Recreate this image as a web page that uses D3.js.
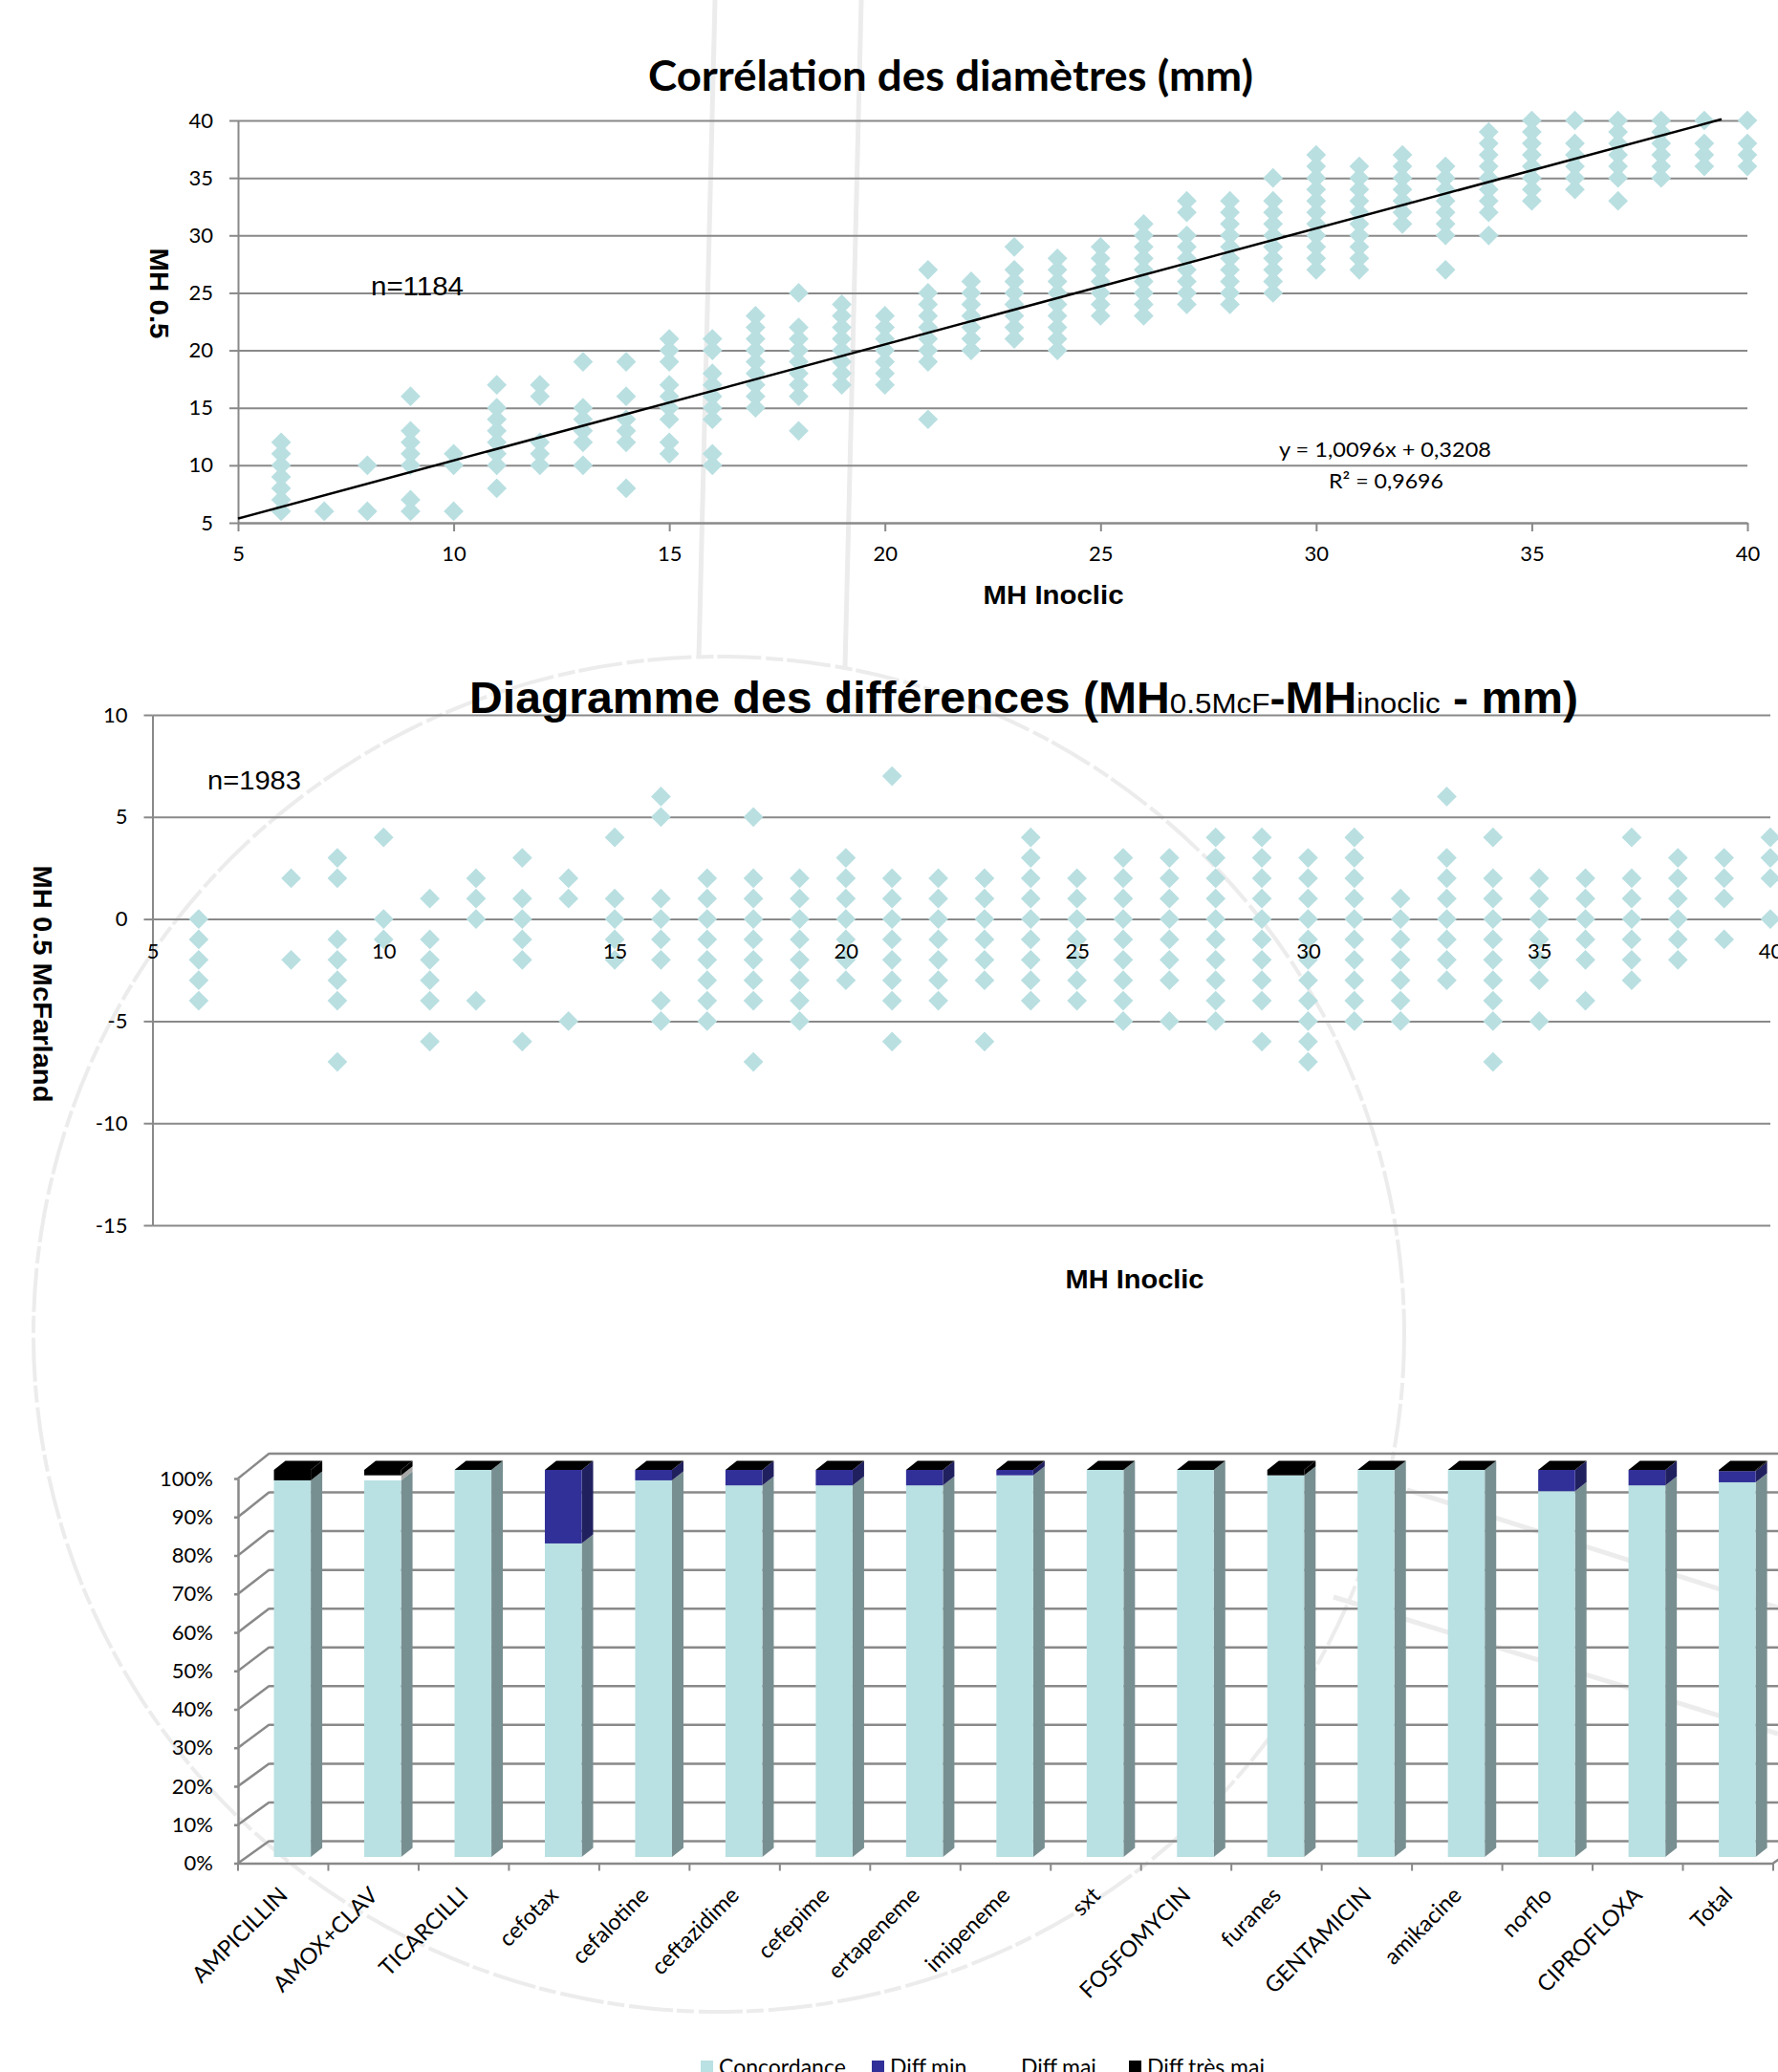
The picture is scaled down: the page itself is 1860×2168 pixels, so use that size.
<!DOCTYPE html>
<html>
<head>
<meta charset="utf-8">
<title>Corrélation des diamètres</title>
<script src="https://cdnjs.cloudflare.com/ajax/libs/d3/7.8.5/d3.min.js"></script>
<style>
  html, body { margin: 0; padding: 0; background: #fff; overflow: hidden; }
  svg { display: block; }
</style>
</head>
<body>
<svg id="chart" width="1860" height="2168"></svg>
<script>
// x value, then all the y values seen in that column
const correlationColumns = [
  [6, [6, 7, 8, 9, 10, 11, 12]],
  [7, [6]],
  [8, [6, 10]],
  [9, [6, 7, 10, 11, 12, 13, 16]],
  [10, [6, 10, 11]],
  [11, [8, 10, 11, 12, 13, 14, 15, 17]],
  [12, [10, 11, 12, 16, 17]],
  [13, [10, 12, 13, 14, 15, 19]],
  [14, [8, 12, 13, 14, 16, 19]],
  [15, [11, 12, 14, 15, 16, 17, 19, 20, 21]],
  [16, [10, 11, 14, 15, 16, 17, 18, 20, 21]],
  [17, [15, 16, 17, 18, 19, 20, 21, 22, 23]],
  [18, [13, 16, 17, 18, 19, 20, 21, 22, 25]],
  [19, [17, 18, 19, 20, 21, 22, 23, 24]],
  [20, [17, 18, 19, 20, 21, 22, 23]],
  [21, [14, 19, 20, 21, 22, 23, 24, 25, 27]],
  [22, [20, 21, 22, 23, 24, 25, 26]],
  [23, [21, 22, 23, 24, 25, 26, 27, 29]],
  [24, [20, 21, 22, 23, 24, 25, 26, 27, 28]],
  [25, [23, 24, 25, 26, 27, 28, 29]],
  [26, [23, 24, 25, 26, 27, 28, 29, 30, 31]],
  [27, [24, 25, 26, 27, 28, 29, 30, 32, 33]],
  [28, [24, 25, 26, 27, 28, 29, 30, 31, 32, 33]],
  [29, [25, 26, 27, 28, 29, 30, 31, 32, 33, 35]],
  [30, [27, 28, 29, 30, 31, 32, 33, 34, 35, 36, 37]],
  [31, [27, 28, 29, 30, 31, 32, 33, 34, 35, 36]],
  [32, [31, 32, 33, 34, 35, 36, 37]],
  [33, [27, 30, 31, 32, 33, 34, 35, 36]],
  [34, [30, 32, 33, 34, 35, 36, 37, 38, 39]],
  [35, [33, 34, 35, 36, 37, 38, 39, 40]],
  [36, [34, 35, 36, 37, 38, 40]],
  [37, [33, 35, 36, 37, 38, 39, 40]],
  [38, [35, 36, 37, 38, 39, 40]],
  [39, [36, 37, 38, 40]],
  [40, [36, 37, 38, 40]],
]
const trendSlope = 1.0096
const trendIntercept = 0.3208
const trendXRange = [5, 39.4]

const differenceColumns = [
  [6, [0, -1, -2, -3, -4]],
  [8, [2, -2]],
  [9, [3, 2, -1, -2, -3, -4, -7]],
  [10, [4, 0, -1]],
  [11, [1, -1, -2, -3, -4, -6]],
  [12, [2, 1, 0, -4]],
  [13, [3, 1, 0, -1, -2, -6]],
  [14, [2, 1, -5]],
  [15, [4, 1, 0, -1, -2]],
  [16, [6, 5, 1, 0, -1, -2, -4, -5]],
  [17, [2, 1, 0, -1, -2, -3, -4, -5]],
  [18, [5, 2, 1, 0, -1, -2, -3, -4, -7]],
  [19, [2, 1, 0, -1, -2, -3, -4, -5]],
  [20, [3, 2, 1, 0, -1, -2, -3]],
  [21, [7, 2, 1, 0, -1, -2, -3, -4, -6]],
  [22, [2, 1, 0, -1, -2, -3, -4]],
  [23, [2, 1, 0, -1, -2, -3, -6]],
  [24, [4, 3, 2, 1, 0, -1, -2, -3, -4]],
  [25, [2, 1, 0, -1, -2, -3, -4]],
  [26, [3, 2, 1, 0, -1, -2, -3, -4, -5]],
  [27, [3, 2, 1, 0, -1, -2, -3, -5]],
  [28, [4, 3, 2, 1, 0, -1, -2, -3, -4, -5]],
  [29, [4, 3, 2, 1, 0, -1, -2, -3, -4, -6]],
  [30, [3, 2, 1, 0, -1, -2, -3, -4, -5, -6, -7]],
  [31, [4, 3, 2, 1, 0, -1, -2, -3, -4, -5]],
  [32, [1, 0, -1, -2, -3, -4, -5]],
  [33, [6, 3, 2, 1, 0, -1, -2, -3]],
  [34, [4, 2, 1, 0, -1, -2, -3, -4, -5, -7]],
  [35, [2, 1, 0, -1, -2, -3, -5]],
  [36, [2, 1, 0, -1, -2, -4]],
  [37, [4, 2, 1, 0, -1, -2, -3]],
  [38, [3, 2, 1, 0, -1, -2]],
  [39, [3, 2, 1, -1]],
  [40, [4, 3, 2, 0]],
]

const drugs = ['AMPICILLIN', 'AMOX+CLAV', 'TICARCILLI', 'cefotax', 'cefalotine', 'ceftazidime', 'cefepime', 'ertapeneme', 'imipeneme', 'sxt', 'FOSFOMYCIN', 'furanes', 'GENTAMICIN', 'amikacine', 'norflo', 'CIPROFLOXA', 'Total']
const concordance = [97.3, 97.3, 100, 81, 97.3, 96, 96, 96, 98.6, 100, 100, 98.6, 100, 100, 94.5, 96, 96.8]
const diffMin = [0, 0, 0, 19, 2.7, 4, 4, 4, 1.4, 0, 0, 0, 0, 0, 5.5, 4, 2.9]
const diffMaj = [0, 1.3, 0, 0, 0, 0, 0, 0, 0, 0, 0, 0, 0, 0, 0, 0, 0]
const diffTresMaj = [2.7, 1.4, 0, 0, 0, 0, 0, 0, 0, 0, 0, 1.4, 0, 0, 0, 0, 0.3]
const seriesNames = ['Concordance', 'Diff.min.', 'Diff.maj.', 'Diff.très maj.']

const corrTicks = [5, 10, 15, 20, 25, 30, 35, 40]
const diffYTicks = [-15, -10, -5, 0, 5, 10]
const pctTicks = [0, 10, 20, 30, 40, 50, 60, 70, 80, 90, 100]

const CALIBRI = 'Lato, sans-serif'
const ARIAL = '"Liberation Sans", Arial, sans-serif'
const GREY = '#898989'
const DIAMOND = '#b9dfe1'
const frontColors = ['#b9e0e2', '#313098', '#ffffff', '#000000']
const sideColors = ['#788f91', '#21205f', '#a6a6a6', '#000000']

const svg = d3.select('#chart')

function text(parent, str, o) {
  const t = parent.append('text')
    .attr('x', o.x)
    .attr('y', o.y)
    .attr('text-anchor', o.anchor || 'middle')
    .attr('font-family', o.font || CALIBRI)
    .attr('font-size', o.size)
    .attr('font-weight', o.weight || 400)
    .attr('fill', '#000')
    .text(str)
  if (o.len) t.attr('textLength', o.len).attr('lengthAdjust', 'spacingAndGlyphs')
  if (o.rotate) t.attr('transform', `rotate(${o.rotate} ${o.x} ${o.y})`)
  return t
}

function styleAxis(g, width = 2) {
  g.attr('font-family', CALIBRI).attr('font-size', 22)
  g.selectAll('line').attr('stroke', GREY).attr('stroke-width', width)
  g.selectAll('path').attr('stroke', GREY).attr('stroke-width', width)
  g.selectAll('text').attr('fill', '#000')
}

function flatten(columns) {
  return columns.flatMap(([x, ys]) => ys.map((y) => ({ x, y })))
}

function drawDiamonds(g, columns, x, y) {
  const diamond = d3.symbol().type(d3.symbolSquare).size(215)
  g.append('g')
    .selectAll('path')
    .data(flatten(columns))
    .join('path')
    .attr('d', diamond)
    .attr('fill', DIAMOND)
    .attr('transform', (d) => `translate(${x(d.x)},${y(d.y)}) rotate(45)`)
}

// faint scan marks behind the charts (the lens outline and its reflections)
function drawScanMarks() {
  const g = svg.append('g')
    .attr('fill', 'none')
    .attr('stroke', '#ececec')
    .attr('stroke-width', 4)
  g.append('ellipse')
    .attr('cx', 752)
    .attr('cy', 1396)
    .attr('rx', 717)
    .attr('ry', 709)
    .attr('stroke-dasharray', '46 5 18 4')
  const marks = [
    [[748, 0], [731, 688]],
    [[901, 0], [884, 698]],
    [[1472, 1559], [1860, 1682]],
    [[1395, 1671], [1860, 1814]],
  ]
  marks.forEach((m) => g.append('path').attr('d', d3.line()(m)).attr('stroke-width', 5))
}

function drawCorrelation() {
  const x = d3.scaleLinear().domain([5, 40]).range([249, 1828])
  const y = d3.scaleLinear().domain([5, 40]).range([547, 126])
  const g = svg.append('g')

  const grid = g.append('g')
    .attr('transform', 'translate(249,0)')
    .call(d3.axisLeft(y).tickValues(corrTicks).tickSize(-(x.range()[1] - x.range()[0])).tickFormat(''))
  grid.select('.domain').remove()
  styleAxis(grid)

  const yAxis = g.append('g')
    .attr('transform', 'translate(249,0)')
    .call(d3.axisLeft(y).tickValues(corrTicks).tickSizeInner(9).tickSizeOuter(0).tickPadding(17))
  styleAxis(yAxis)

  const xAxis = g.append('g')
    .attr('transform', 'translate(0,547)')
    .call(d3.axisBottom(x).tickValues(corrTicks).tickSizeInner(9).tickSizeOuter(0).tickPadding(15))
  styleAxis(xAxis)

  drawDiamonds(g, correlationColumns, x, y)

  g.append('path')
    .attr('d', d3.line().x((d) => x(d)).y((d) => y(trendSlope * d + trendIntercept))(trendXRange))
    .attr('stroke', '#000')
    .attr('stroke-width', 2.5)
    .attr('fill', 'none')

  text(g, 'Corrélation des diamètres (mm)', { x: 994.5, y: 95, size: 43, weight: 700, len: 633 })
  text(g, 'MH Inoclic', { x: 1102, y: 632, size: 28, weight: 700, font: ARIAL, len: 147 })
  text(g, 'MH 0.5', { x: 157, y: 307, size: 28, weight: 700, font: ARIAL, rotate: 90, len: 95 })
  text(g, 'n=1184', { x: 388, y: 309, size: 27, font: ARIAL, anchor: 'start', len: 97 })
  text(g, 'y = 1,0096x + 0,3208', { x: 1449, y: 478, size: 22, len: 222 })
  text(g, 'R² = 0,9696', { x: 1450, y: 511, size: 22, len: 120 })
}

function drawDifferences() {
  const x = d3.scaleLinear().domain([5, 40]).range([159.5, 1852])
  const y = d3.scaleLinear().domain([-15, 10]).range([1282, 748])
  const g = svg.append('g')

  const grid = g.append('g')
    .attr('transform', 'translate(159.5,0)')
    .call(d3.axisLeft(y).tickValues(diffYTicks).tickSize(-(x.range()[1] - x.range()[0])).tickFormat(''))
  grid.select('.domain').remove()
  styleAxis(grid)

  const yAxis = g.append('g')
    .attr('transform', 'translate(159.5,0)')
    .call(d3.axisLeft(y).tickValues(diffYTicks).tickSizeInner(9).tickSizeOuter(0).tickPadding(17).tickFormat((d) => String(d)))
  styleAxis(yAxis)

  drawDiamonds(g, differenceColumns, x, y)

  const xAxis = g.append('g')
    .attr('transform', `translate(0,${y(0)})`)
    .call(d3.axisBottom(x).tickValues(corrTicks).tickSize(0).tickPadding(26))
  xAxis.select('.domain').remove()
  styleAxis(xAxis)

  const title = text(g, '', { x: 491, y: 746, size: 46, weight: 700, font: ARIAL, anchor: 'start', len: 1160 })
  const parts = [
    ['Diagramme des différences (MH', 46, 700],
    ['0.5McF', 30, 400],
    ['-MH', 46, 700],
    ['inoclic', 30, 400],
    [' - mm)', 46, 700],
  ]
  parts.forEach(([s, size, weight]) => {
    title.append('tspan').attr('font-size', size).attr('font-weight', weight).text(s)
  })

  text(g, 'MH Inoclic', { x: 1187, y: 1348, size: 28, weight: 700, font: ARIAL, len: 145 })
  text(g, 'MH 0.5 McFarland', { x: 35, y: 1029.5, size: 28, weight: 700, font: ARIAL, rotate: 90, len: 248 })
  text(g, 'n=1983', { x: 217, y: 826, size: 27, font: ARIAL, anchor: 'start', len: 98 })
}

function drawBars() {
  const table = drugs.map((name, i) => ({
    name,
    [seriesNames[0]]: concordance[i],
    [seriesNames[1]]: diffMin[i],
    [seriesNames[2]]: diffMaj[i],
    [seriesNames[3]]: diffTresMaj[i],
  }))
  const stacked = d3.stack().keys(seriesNames)(table)

  // floor band along the front edge of the 3D box
  const x = d3.scaleBand().domain(drugs).range([249, 1855]).paddingInner(0.592).paddingOuter(0.296)
  // three planes of the fake 3D box, each a bit different like the perspective in the original
  const yFront = d3.scaleLinear().domain([0, 100]).range([1949.5, 1547])
  const yBack = d3.scaleLinear().domain([0, 100]).range([1926, 1520.5])
  const yBar = d3.scaleLinear().domain([0, 100]).range([1943, 1538])
  const backX = 282
  const bar = { dx: 12, dy: -9.5, inset: 9.6 } // bar depth and where it sits on the floor
  const g = svg.append('g')

  const back = g.append('g')
    .attr('transform', `translate(${backX},0)`)
    .call(d3.axisLeft(yBack).tickValues(pctTicks).tickSize(-1700).tickFormat(''))
  back.select('.domain').remove()
  styleAxis(back, 2.5)

  // slanted lines on the left wall
  g.append('g')
    .selectAll('line')
    .data(pctTicks)
    .join('line')
    .attr('x1', 249)
    .attr('y1', (d) => yFront(d))
    .attr('x2', backX)
    .attr('y2', (d) => yBack(d))
    .attr('stroke', GREY)
    .attr('stroke-width', 2.5)

  g.append('line')
    .attr('x1', 1855)
    .attr('y1', yFront(0))
    .attr('x2', 1855 + backX - 249)
    .attr('y2', yBack(0))
    .attr('stroke', GREY)
    .attr('stroke-width', 2.5)

  const yAxis = g.append('g')
    .attr('transform', 'translate(249,0)')
    .call(d3.axisLeft(yFront).tickValues(pctTicks).tickSizeInner(4).tickSizeOuter(0).tickPadding(22).tickFormat((d) => `${d}%`))
  styleAxis(yAxis, 2.5)

  const xAxis = g.append('g')
    .attr('transform', `translate(0,${yFront(0)})`)
    .call(d3.axisBottom(x).tickSize(0).tickFormat(''))
  styleAxis(xAxis, 2.5)

  g.append('g')
    .selectAll('line')
    .data(drugs.concat('end'))
    .join('line')
    .attr('x1', (d, i) => 249 + i * x.step())
    .attr('x2', (d, i) => 249 + i * x.step())
    .attr('y1', yFront(0))
    .attr('y2', yFront(0) + 8)
    .attr('stroke', GREY)
    .attr('stroke-width', 2)

  const left = (d) => x(d.data.name) + bar.inset
  const right = (d) => left(d) + x.bandwidth()
  const top = (d) => yBar(d[1])
  const base = (d) => yBar(d[0])

  stacked.forEach((layer, i) => {
    const layerG = g.append('g')
    layerG.selectAll('polygon')
      .data(layer.filter((d) => d[1] > d[0]))
      .join('polygon')
      .attr('points', (d) => [
        [right(d), base(d)],
        [right(d) + bar.dx, base(d) + bar.dy],
        [right(d) + bar.dx, top(d) + bar.dy],
        [right(d), top(d)],
      ].join(' '))
      .attr('fill', sideColors[i])
    layerG.selectAll('rect')
      .data(layer.filter((d) => d[1] > d[0]))
      .join('rect')
      .attr('x', left)
      .attr('width', x.bandwidth())
      .attr('y', top)
      .attr('height', (d) => base(d) - top(d))
      .attr('fill', frontColors[i])
  })

  // lid of every bar takes the colour of the top series, even at zero height
  g.append('g')
    .selectAll('polygon')
    .data(stacked[stacked.length - 1])
    .join('polygon')
    .attr('points', (d) => [
      [left(d), top(d)],
      [right(d), top(d)],
      [right(d) + bar.dx, top(d) + bar.dy],
      [left(d) + bar.dx, top(d) + bar.dy],
    ].join(' '))
    .attr('fill', '#000')

  g.append('g')
    .selectAll('text')
    .data(drugs)
    .join('text')
    .attr('transform', (d) => `translate(${x(d) + x.bandwidth() / 2 + 6},${yFront(0) + 35}) rotate(-45)`)
    .attr('text-anchor', 'end')
    .attr('font-family', CALIBRI)
    .attr('font-size', 23.5)
    .attr('fill', '#000')
    .text((d) => d)

  // legend sits at the very bottom, cut by the picture edge like in the original
  const legendX = [733, 912, 1049, 1181]
  const legend = g.append('g')
    .selectAll('g')
    .data(seriesNames)
    .join('g')
    .attr('transform', (d, i) => `translate(${legendX[i]},2156)`)
  legend.append('rect')
    .attr('width', 13)
    .attr('height', 13)
    .attr('fill', (d, i) => frontColors[i])
  legend.append('text')
    .attr('x', 19)
    .attr('y', 15)
    .attr('font-family', CALIBRI)
    .attr('font-size', 23)
    .attr('fill', '#000')
    .text((d) => d)
}

drawScanMarks()
drawCorrelation()
drawDifferences()
drawBars()
</script>
</body>
</html>
